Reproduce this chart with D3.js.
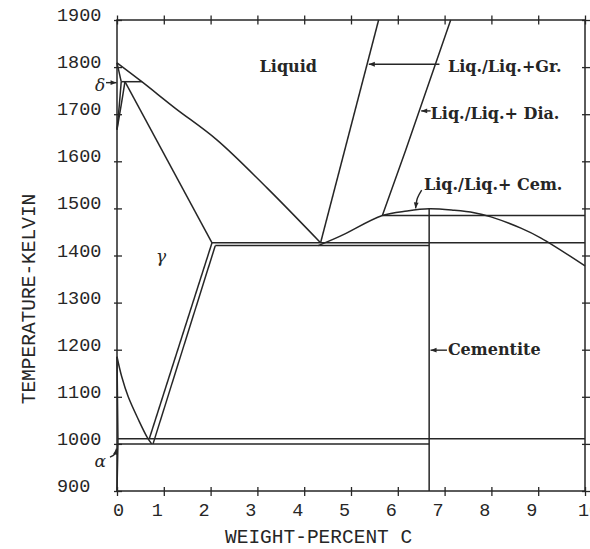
<!DOCTYPE html>
<html>
<head>
<meta charset="utf-8">
<script src="https://cdn.jsdelivr.net/npm/d3@7"></script>
<style>
  html, body { margin: 0; padding: 0; background: #fff; }
  svg { display: block; }
</style>
</head>
<body>
<svg id="chart" width="590" height="549"></svg>
<script>
// ---------- data (wt% C, Kelvin) ----------
const xTicks = [0, 1, 2, 3, 4, 5, 6, 7, 8, 9, 10];
const yTicks = [900, 1000, 1100, 1200, 1300, 1400, 1500, 1600, 1700, 1800, 1900];
const xTitle = "WEIGHT-PERCENT C";
const yTitle = "TEMPERATURE-KELVIN";

const liquidus      = [[0, 1809], [0.53, 1769], [1.24, 1713], [2.14, 1645], [3.21, 1543], [4.35, 1427]];
const deltaSolidus  = [[0, 1809], [0.09, 1769]];
const deltaGammaL   = [[0.09, 1769], [0.05, 1720], [0, 1667]];
const deltaGammaR   = [[0.17, 1769], [0.09, 1720], [0, 1667]];
const peritectic    = [[0.09, 1769], [0.53, 1769]];
const gammaSolidus  = [[0.17, 1769], [2.03, 1427]];
const eutecticGr    = [[2.03, 1427], [10, 1427]];
const eutecticCem   = [[2.1, 1421], [6.67, 1421]];
const acmGr         = [[0.69, 1011], [2.03, 1427]];
const acmCem        = [[0.77, 1000], [2.1, 1421]];
const a3Line        = [[0, 1185], [0.1, 1143], [0.24, 1100], [0.46, 1051], [0.64, 1015], [0.74, 1000]];
const alphaLine     = [[0, 1185], [0.01, 1100], [0.02, 1011], [0.02, 1000], [0, 900]];
const eutectoidGr   = [[0.02, 1011], [10, 1011]];
const eutectoidCem  = [[0.02, 1000], [6.67, 1000]];
const cementiteLine = [[6.67, 900], [6.67, 1499]];
const liqGraphite   = [[4.35, 1427], [5.59, 1900]];
const liqDiamond    = [[5.67, 1485], [6.17, 1624], [7.13, 1900]];
const diamondLevel  = [[5.67, 1485], [10, 1485]];
const liqCementite  = [[4.3, 1421], [4.77, 1441], [5.67, 1485], [6.2, 1494.5], [6.67, 1499], [7.2, 1496], [7.63, 1491], [7.99, 1482], [8.63, 1458], [9.06, 1437], [10, 1378]];

const labels = [
  {text: "Liquid",            x: 3.66, t: 1790, anchor: "middle"},
  {text: "Liq./Liq.+Gr.",     x: 7.07, t: 1790, anchor: "start"},
  {text: "Liq./Liq.+ Dia.",   x: 6.70, t: 1690, anchor: "start"},
  {text: "Liq./Liq.+ Cem.",   x: 6.56, t: 1539, anchor: "start"},
  {text: "Cementite",         x: 7.07, t: 1189, anchor: "start"},
  {text: "γ",                 x: 0.94, t: 1386, anchor: "middle", greek: true},
  {text: "δ",                 x: -0.36, t: 1750, anchor: "middle", greek: true},
  {text: "α",                 x: -0.36, t: 950, anchor: "middle", greek: true}
];
const arrows = [
  {pts: [[6.89, 1806], [5.38, 1806]]},
  {pts: [[6.70, 1707], [6.50, 1707]]},
  {pts: [[6.51, 1539], [6.42, 1522], [6.38, 1500]]},
  {pts: [[7.05, 1199], [6.70, 1199]]},
  {pts: [[-0.235, 1767], [-0.01, 1767]]},
  {pts: [[-0.15, 972], [-0.05, 978], [-0.01, 990]]}
];

// ---------- layout ----------
const svg = d3.select("#chart");
const x = d3.scaleLinear().domain([0, 10]).range([117, 585]);
const y = d3.scaleLinear().domain([900, 1900]).range([491, 20]);
const ink = "#262626";

svg.append("defs").append("marker")
  .attr("id", "ah").attr("viewBox", "0 -5 10 10").attr("refX", 10).attr("refY", 0)
  .attr("markerUnits", "userSpaceOnUse").attr("markerWidth", 8).attr("markerHeight", 6)
  .attr("orient", "auto")
  .append("path").attr("d", "M0,-4L10,0L0,4Z").attr("fill", ink);

// frame
svg.append("rect").attr("x", x(0)).attr("y", y(1900))
  .attr("width", x(10) - x(0)).attr("height", y(900) - y(1900))
  .attr("fill", "none").attr("stroke", ink).attr("stroke-width", 1.5);

// ticks via axes
const tickStyle = g => { g.select(".domain").remove(); g.selectAll("line").attr("stroke", ink).attr("stroke-width", 1.3); g.selectAll("text").remove(); };
svg.append("g").attr("transform", `translate(0,${y(900) + 5})`)
  .call(d3.axisTop(x).tickValues(xTicks).tickSize(9)).call(tickStyle);
svg.append("g").attr("transform", `translate(0,${y(1900) + 4.5})`)
  .call(d3.axisTop(x).tickValues(xTicks).tickSize(9)).call(tickStyle);
svg.append("g").attr("transform", `translate(${x(0) + 5},0)`)
  .call(d3.axisLeft(y).tickValues(yTicks).tickSize(8)).call(tickStyle);
svg.append("g").attr("transform", `translate(${x(10) - 3},0)`)
  .call(d3.axisRight(y).tickValues(yTicks).tickSize(8)).call(tickStyle);

// tick labels
const mono = "'Liberation Mono', 'DejaVu Sans Mono', monospace";
svg.append("g").selectAll("text").data(yTicks).join("text")
  .attr("x", 57).attr("y", d => y(d) + 1)
  .attr("font-family", mono).attr("font-size", 18.5).attr("fill", ink)
  .text(d => d);
svg.append("g").selectAll("text").data(xTicks).join("text")
  .attr("x", d => x(d) + (d === 0 ? 1.5 : d === 10 ? 4 : -6.5)).attr("y", 516)
  .attr("text-anchor", "middle")
  .attr("font-family", mono).attr("font-size", 18.5).attr("fill", ink)
  .text(d => d);

// axis titles
svg.append("text").attr("x", 225).attr("y", 543)
  .attr("font-family", mono).attr("font-size", 19.5).attr("fill", ink)
  .text(xTitle);
svg.append("text").attr("transform", "translate(35,299) rotate(-90)")
  .attr("text-anchor", "middle")
  .attr("font-family", mono).attr("font-size", 19.5).attr("fill", ink)
  .text(yTitle);

// phase boundaries
const line = d3.line().x(d => x(d[0])).y(d => y(d[1]));
const smooth = d3.line().x(d => x(d[0])).y(d => y(d[1])).curve(d3.curveCatmullRom.alpha(0.5));
const g = svg.append("g").attr("fill", "none").attr("stroke", ink).attr("stroke-width", 1.5).attr("stroke-linejoin", "round");
[
  [liquidus, smooth], [deltaSolidus, line], [deltaGammaL, smooth], [deltaGammaR, smooth],
  [peritectic, line], [gammaSolidus, line], [eutecticGr, line], [eutecticCem, line],
  [acmGr, line], [acmCem, line], [a3Line, smooth], [alphaLine, line],
  [eutectoidGr, line], [eutectoidCem, line], [cementiteLine, line],
  [liqGraphite, line], [liqDiamond, line], [diamondLevel, line], [liqCementite, smooth]
].forEach(([data, gen]) => g.append("path").attr("d", gen(data)));

// annotation arrows
svg.append("g").selectAll("path").data(arrows).join("path")
  .attr("d", d => smooth(d.pts))
  .attr("fill", "none").attr("stroke", ink).attr("stroke-width", 1.4)
  .attr("marker-end", "url(#ah)");

// labels
svg.append("g").selectAll("text").data(labels).join("text")
  .attr("x", d => x(d.x)).attr("y", d => y(d.t))
  .attr("text-anchor", d => d.anchor)
  .attr("font-family", "'DejaVu Serif', 'Liberation Serif', serif")
  .attr("font-weight", d => d.greek ? "normal" : "bold")
  .attr("font-style", d => d.greek ? "italic" : "normal")
  .attr("font-size", d => d.greek ? 17 : 16)
  .attr("fill", ink)
  .text(d => d.text);
</script>
</body>
</html>
